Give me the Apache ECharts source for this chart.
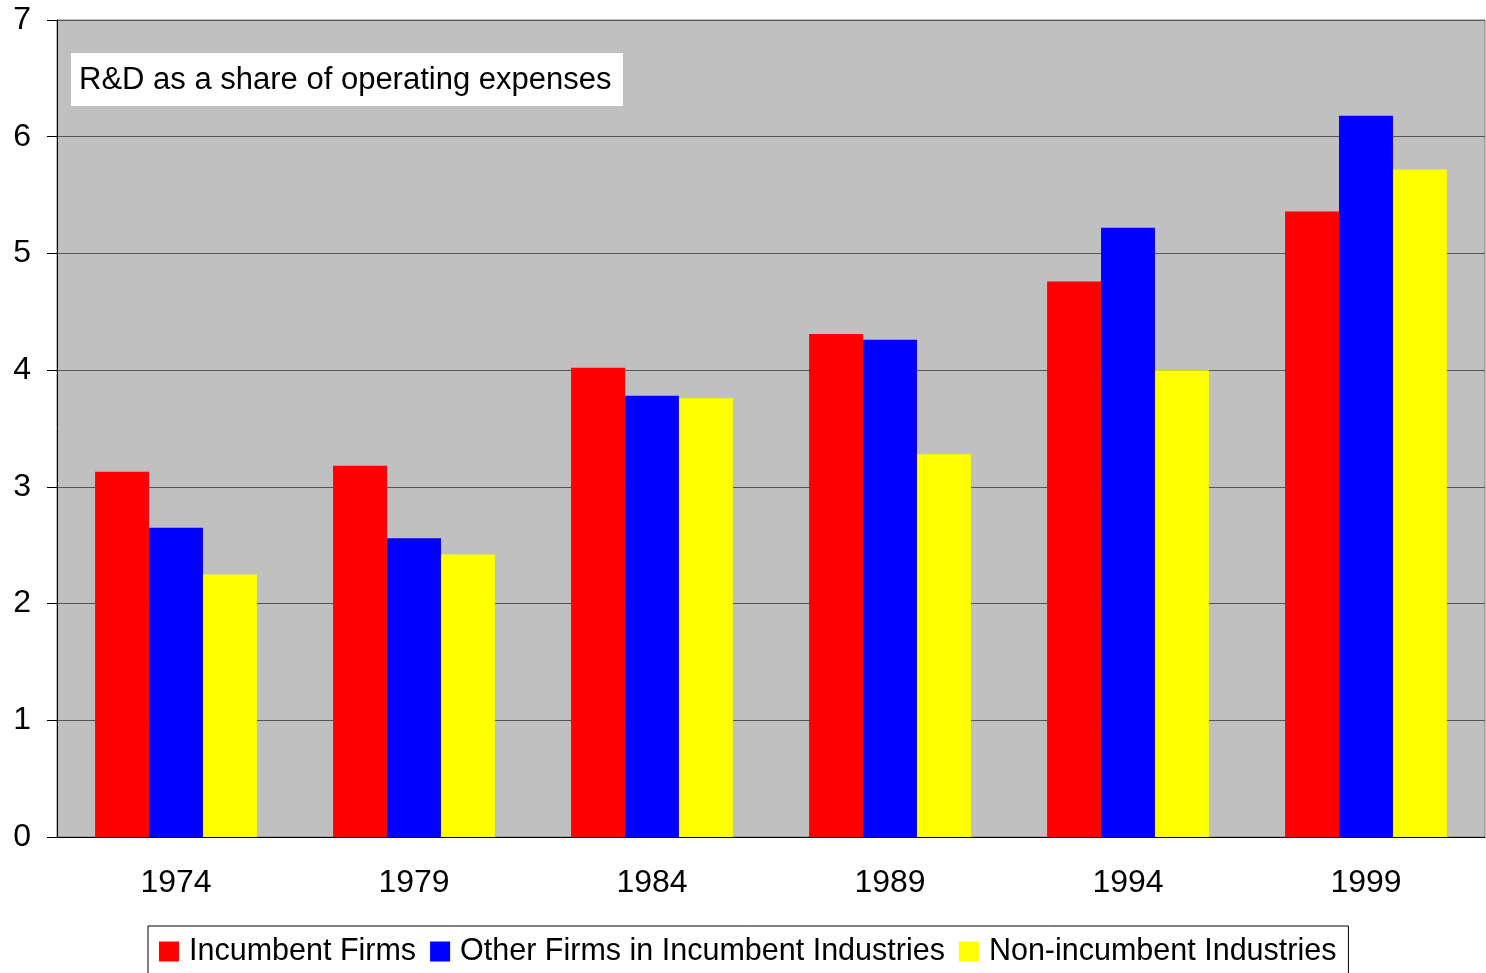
<!DOCTYPE html>
<html><head><meta charset="utf-8">
<script src="https://cdn.jsdelivr.net/npm/echarts@6/dist/echarts.min.js"></script>
<style>html,body{margin:0;padding:0;background:#fff}#c{width:1486px;height:973px}</style>
</head><body><div id="c"></div>
<script>
const categories = ['1974','1979','1984','1989','1994','1999'];
const incumbentFirms = [3.13, 3.18, 4.02, 4.31, 4.76, 5.36];
const otherFirms = [2.65, 2.56, 3.78, 4.26, 5.22, 6.18];
const nonIncumbent = [2.25, 2.42, 3.76, 3.28, 4.00, 5.72];
const seriesNames = ['Incumbent Firms', 'Other Firms in Incumbent Industries', 'Non-incumbent Industries'];
const colors = ['#ff0000', '#0000ff', '#ffff00'];
const font = 'Liberation Sans, Arial, sans-serif';

const chart = echarts.init(document.getElementById('c'));
const mk = (name, data, color) => ({
  name, type: 'bar', data, barGap: '0%', barCategoryGap: '32%',
  itemStyle: {color}, animation: false
});
chart.setOption({
  animation: false,
  textStyle: {fontFamily: font},
  grid: {left: 57, right: 1, top: 20, bottom: 136, show: true, backgroundColor: '#c0c0c0', borderColor: '#808080', borderWidth: 1},
  legend: {
    bottom: -12, left: 148, itemWidth: 20, itemHeight: 20, itemGap: 14,
    icon: 'rect', backgroundColor: '#fff', borderColor: '#000', borderWidth: 1,
    padding: [10, 12, 18, 11],
    textStyle: {fontSize: 30.5, color: '#000', fontFamily: font, padding: [0, 0, 0, 5]},
    data: seriesNames
  },
  graphic: [{
    type: 'group', left: 71, top: 53, children: [
      {type: 'rect', shape: {x: 0, y: 0, width: 552, height: 53}, style: {fill: '#fff'}},
      {type: 'text', x: 8, y: 27, style: {text: 'R&D as a share of operating expenses', font: '31px Liberation Sans, Arial, sans-serif', fill: '#000', verticalAlign: 'middle'}}
    ]
  }],
  xAxis: {
    type: 'category', data: categories,
    axisLine: {lineStyle: {color: '#000', width: 1}},
    axisTick: {length: 9, lineStyle: {color: '#000'}},
    axisLabel: {fontSize: 32, color: '#000', margin: 30, fontFamily: font}
  },
  yAxis: {
    type: 'value', min: 0, max: 7, interval: 1,
    axisLine: {show: true, lineStyle: {color: '#000', width: 1}},
    axisTick: {show: true, length: 10, lineStyle: {color: '#000'}},
    axisLabel: {fontSize: 32, color: '#000', margin: 26, fontFamily: font},
    splitLine: {lineStyle: {color: '#555', width: 1}}
  },
  series: [
    mk(seriesNames[0], incumbentFirms, colors[0]),
    mk(seriesNames[1], otherFirms, colors[1]),
    mk(seriesNames[2], nonIncumbent, colors[2])
  ]
});
</script></body></html>
